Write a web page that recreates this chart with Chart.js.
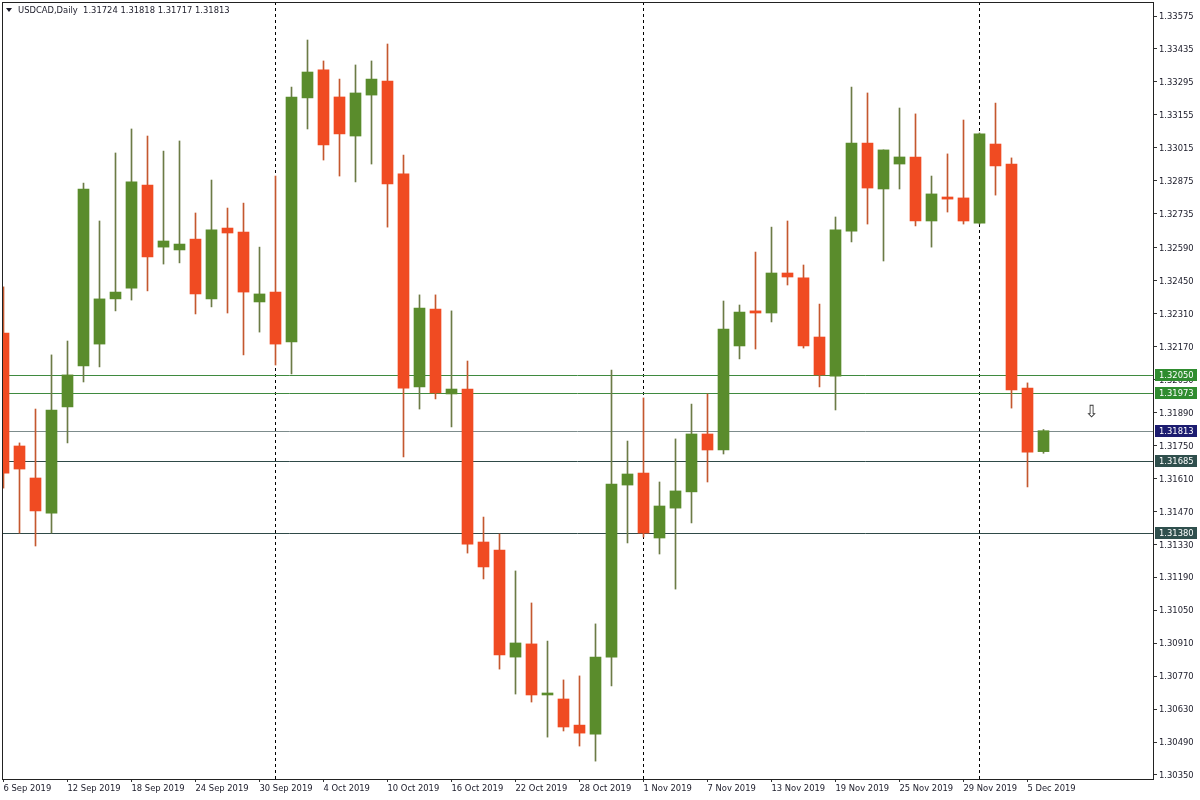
<!DOCTYPE html>
<html>
<head>
<meta charset="utf-8">
<title>USDCAD Daily</title>
<script src="https://cdn.jsdelivr.net/npm/chart.js@4.4.1/dist/chart.umd.min.js"></script>
<style>
  html, body { margin: 0; padding: 0; background: #fff; }
  #wrap { width: 1200px; height: 800px; }
</style>
</head>
<body>
<div id="wrap"><canvas id="chart" width="1200" height="800"></canvas></div>
<script>
/* global Chart */

// one entry per daily candle
const dates = [
  '6 Sep 2019', '9 Sep 2019', '10 Sep 2019', '11 Sep 2019', '12 Sep 2019', '13 Sep 2019',
  '16 Sep 2019', '17 Sep 2019', '18 Sep 2019', '19 Sep 2019', '20 Sep 2019',
  '23 Sep 2019', '24 Sep 2019', '25 Sep 2019', '26 Sep 2019', '27 Sep 2019', '30 Sep 2019',
  '1 Oct 2019', '2 Oct 2019', '3 Oct 2019', '4 Oct 2019',
  '7 Oct 2019', '8 Oct 2019', '9 Oct 2019', '10 Oct 2019', '11 Oct 2019',
  '14 Oct 2019', '15 Oct 2019', '16 Oct 2019', '17 Oct 2019', '18 Oct 2019',
  '21 Oct 2019', '22 Oct 2019', '23 Oct 2019', '24 Oct 2019', '25 Oct 2019',
  '28 Oct 2019', '29 Oct 2019', '30 Oct 2019', '31 Oct 2019', '1 Nov 2019',
  '4 Nov 2019', '5 Nov 2019', '6 Nov 2019', '7 Nov 2019', '8 Nov 2019',
  '11 Nov 2019', '12 Nov 2019', '13 Nov 2019', '14 Nov 2019', '15 Nov 2019',
  '18 Nov 2019', '19 Nov 2019', '20 Nov 2019', '21 Nov 2019', '22 Nov 2019',
  '25 Nov 2019', '26 Nov 2019', '27 Nov 2019', '28 Nov 2019', '29 Nov 2019',
  '2 Dec 2019', '3 Dec 2019', '4 Dec 2019', '5 Dec 2019', '6 Dec 2019'
];

const opens = [
  1.32228, 1.31748, 1.31612, 1.31463, 1.31914, 1.32088,
  1.32181, 1.32373, 1.32419, 1.32857, 1.32593,
  1.32581, 1.32627, 1.32373, 1.32674, 1.32657, 1.32360,
  1.32402, 1.32190, 1.33227, 1.33346,
  1.33231, 1.33065, 1.33239, 1.33299, 1.32904,
  1.31999, 1.32330, 1.31969, 1.31990, 1.31340,
  1.31306, 1.30851, 1.30907, 1.30690, 1.30673,
  1.30562, 1.30524, 1.30851, 1.31582, 1.31633,
  1.31357, 1.31484, 1.31553, 1.31799, 1.31731,
  1.32173, 1.32322, 1.32313, 1.32483, 1.32462,
  1.32211, 1.32045, 1.32661, 1.33035, 1.32840,
  1.32946, 1.32976, 1.32704, 1.32806, 1.32802,
  1.32695, 1.33031, 1.32946, 1.31994, 1.31724
];

const highs = [
  1.32424, 1.31761, 1.31905, 1.32135, 1.32194, 1.32865,
  1.32704, 1.32993, 1.33095, 1.33065, 1.33001,
  1.33044, 1.32738, 1.32878, 1.32759, 1.32780, 1.32593,
  1.32895, 1.33273, 1.33473, 1.33384,
  1.33307, 1.33367, 1.33384, 1.33456, 1.32984,
  1.32390, 1.32390, 1.32322, 1.32109, 1.31446,
  1.31374, 1.31217, 1.31081, 1.30919, 1.30754,
  1.30771, 1.30992, 1.32071, 1.31769, 1.31952,
  1.31595, 1.31778, 1.31926, 1.31969, 1.32364,
  1.32347, 1.32572, 1.32678, 1.32704, 1.32517,
  1.32351, 1.32721, 1.33273, 1.33248, 1.33006,
  1.33184, 1.33159, 1.32895, 1.32989, 1.33133,
  1.33078, 1.33205, 1.32972, 1.32016, 1.31818
];

const lows = [
  1.31569, 1.31378, 1.31323, 1.31378, 1.31761, 1.32020,
  1.32084, 1.32322, 1.32368, 1.32407, 1.32521,
  1.32526, 1.32309, 1.32339, 1.32313, 1.32135, 1.32232,
  1.32092, 1.32054, 1.33095, 1.32963,
  1.32895, 1.32870, 1.32946, 1.32678, 1.31701,
  1.31905, 1.31948, 1.31829, 1.31293, 1.31183,
  1.30800, 1.30694, 1.30660, 1.30511, 1.30537,
  1.30473, 1.30409, 1.30728, 1.31336, 1.31361,
  1.31289, 1.31140, 1.31421, 1.31595, 1.31714,
  1.32118, 1.32160, 1.32275, 1.32432, 1.32164,
  1.31999, 1.31901, 1.32615, 1.32691, 1.32534,
  1.32840, 1.32683, 1.32593, 1.32742, 1.32691,
  1.32691, 1.32814, 1.31909, 1.31574, 1.31717
];

const closes = [
  1.31633, 1.31650, 1.31472, 1.31901, 1.32050, 1.32840,
  1.32373, 1.32402, 1.32870, 1.32551, 1.32619,
  1.32606, 1.32394, 1.32666, 1.32653, 1.32402, 1.32394,
  1.32181, 1.33231, 1.33337, 1.33027,
  1.33074, 1.33248, 1.33307, 1.32861, 1.31994,
  1.32334, 1.31973, 1.31990, 1.31331, 1.31234,
  1.30860, 1.30911, 1.30690, 1.30698, 1.30554,
  1.30528, 1.30851, 1.31586, 1.31629, 1.31378,
  1.31493, 1.31557, 1.31799, 1.31731, 1.32245,
  1.32317, 1.32313, 1.32483, 1.32466, 1.32173,
  1.32050, 1.32666, 1.33035, 1.32844, 1.33006,
  1.32976, 1.32704, 1.32819, 1.32797, 1.32704,
  1.33074, 1.32938, 1.31986, 1.31722, 1.31813
];

// axis labels
const xTickIdx = [0, 4, 8, 12, 16, 20, 24, 28, 32, 36, 40, 44, 48, 52, 56, 60, 64];
const priceTicks = [
  1.33575, 1.33435, 1.33295, 1.33155, 1.33015, 1.32875, 1.32735, 1.32590,
  1.32450, 1.32310, 1.32170, 1.32030, 1.31890, 1.31750, 1.31610, 1.31470,
  1.31330, 1.31190, 1.31050, 1.30910, 1.30770, 1.30630, 1.30490, 1.30350
];

// horizontal levels, month separators (candle index), header and marker
const levelPrices = [1.32050, 1.31973, 1.31813, 1.31685, 1.31380];
const separatorIdx = [17, 40, 61];
const symbolTitle = 'USDCAD,Daily';
const lastOHLC = [1.31724, 1.31818, 1.31717, 1.31813];
const arrowAt = { x: 68, y: 1.31888 };

// styles
const UP = '#5a8c2c';
const DOWN = '#f04b22';
const WICK_UP = '#6c7b46';
const WICK_DOWN = '#c4582f';
const TEXT = '#1a1a28';
const FONT = '"DejaVu Sans", sans-serif';
const levelStyle = [
  { line: '#3f8a3f', box: '#2f8c2f' },
  { line: '#3f8a3f', box: '#2f8c2f' },
  { line: '#7d8c8c', box: '#1c1c70' },
  { line: '#2f4a48', box: '#2f4f4d' },
  { line: '#2f4a48', box: '#2f4f4d' }
];

const isUp = i => closes[i] >= opens[i];

const overlay = {
  id: 'overlay',
  beforeDatasetsDraw(chart) {
    const { ctx, chartArea: a, scales: { x, y } } = chart;
    ctx.save();
    ctx.lineWidth = 1;
    ctx.strokeStyle = '#000';
    ctx.setLineDash([3, 3]);
    separatorIdx.forEach(i => {
      const px = Math.floor(x.getPixelForValue(i)) + 0.5;
      ctx.beginPath();
      ctx.moveTo(px, a.top);
      ctx.lineTo(px, a.bottom);
      ctx.stroke();
    });
    ctx.setLineDash([]);
    levelPrices.forEach((p, k) => {
      const py = Math.round(y.getPixelForValue(p)) + 0.5;
      ctx.strokeStyle = levelStyle[k].line;
      ctx.beginPath();
      ctx.moveTo(a.left, py);
      ctx.lineTo(a.right, py);
      ctx.stroke();
    });
    ctx.restore();
  },
  afterDraw(chart) {
    const { ctx, chartArea: a, scales: { x, y } } = chart;
    ctx.save();
    // frame
    ctx.strokeStyle = '#222';
    ctx.lineWidth = 1;
    ctx.strokeRect(a.left + 0.5, a.top + 0.5, a.right - a.left, a.bottom - a.top);

    // price boxes on the axis
    ctx.font = '8.4px ' + FONT;
    ctx.textBaseline = 'middle';
    levelPrices.forEach((p, k) => {
      const py = Math.round(y.getPixelForValue(p));
      ctx.fillStyle = levelStyle[k].box;
      ctx.fillRect(a.right + 2, py - 6, 42, 12);
      ctx.fillStyle = '#fff';
      ctx.fillText(p.toFixed(5), a.right + 6, py + 0.5);
    });

    // header
    ctx.fillStyle = TEXT;
    ctx.beginPath();
    ctx.moveTo(6, 8);
    ctx.lineTo(12, 8);
    ctx.lineTo(9, 12);
    ctx.closePath();
    ctx.fill();
    ctx.fillText(symbolTitle + '  ' + lastOHLC.map(v => v.toFixed(5)).join(' '), 18, 11);

    // down arrow marker
    ctx.font = '17px ' + FONT;
    ctx.textAlign = 'center';
    ctx.fillStyle = '#333';
    ctx.fillText('\u21E9', x.getPixelForValue(arrowAt.x), y.getPixelForValue(arrowAt.y));
    ctx.restore();
  }
};

const ctx = document.getElementById('chart').getContext('2d');
new Chart(ctx, {
  type: 'bar',
  data: {
    datasets: [
      {
        label: 'wick',
        data: dates.map((d, i) => ({ x: i, y: [lows[i], highs[i]] })),
        backgroundColor: c => (isUp(c.dataIndex) ? WICK_UP : WICK_DOWN),
        barThickness: 1,
        grouped: false,
        order: 2
      },
      {
        label: 'body',
        data: dates.map((d, i) => ({ x: i, y: [opens[i], closes[i]] })),
        backgroundColor: c => (isUp(c.dataIndex) ? UP : DOWN),
        barThickness: 11,
        minBarLength: 2,
        grouped: false,
        order: 1
      }
    ]
  },
  options: {
    responsive: false,
    animation: false,
    layout: { padding: { left: 2, top: 2, right: 0, bottom: 0 } },
    scales: {
      x: {
        type: 'linear',
        offset: false,
        min: -0.09375,
        max: 71.84375,
        afterBuildTicks: s => { s.ticks = xTickIdx.map(v => ({ value: v })); },
        afterFit: s => {
          s.height = 21;
          s.paddingLeft = 0; s.paddingRight = 0; s.paddingTop = 0; s.paddingBottom = 0;
        },
        ticks: {
          callback: v => dates[v],
          align: 'start',
          autoSkip: false,
          maxRotation: 0,
          padding: 2,
          color: TEXT,
          font: { family: FONT, size: 8.4 }
        },
        grid: { offset: false, drawOnChartArea: false, tickLength: 3, color: '#333' },
        border: { display: false }
      },
      y: {
        position: 'right',
        min: 1.30333,
        max: 1.336345,
        afterBuildTicks: s => { s.ticks = priceTicks.map(v => ({ value: v })); },
        afterFit: s => {
          s.width = 47;
          s.paddingLeft = 0; s.paddingRight = 0; s.paddingTop = 0; s.paddingBottom = 0;
        },
        ticks: {
          callback: v => v.toFixed(5),
          autoSkip: false,
          padding: 2,
          labelOffset: 1,
          color: TEXT,
          font: { family: FONT, size: 8.4 }
        },
        grid: { drawOnChartArea: false, tickLength: 4, color: '#333' },
        border: { display: false }
      }
    },
    plugins: {
      legend: { display: false },
      tooltip: { enabled: false }
    }
  },
  plugins: [overlay]
});
</script>
</body>
</html>
